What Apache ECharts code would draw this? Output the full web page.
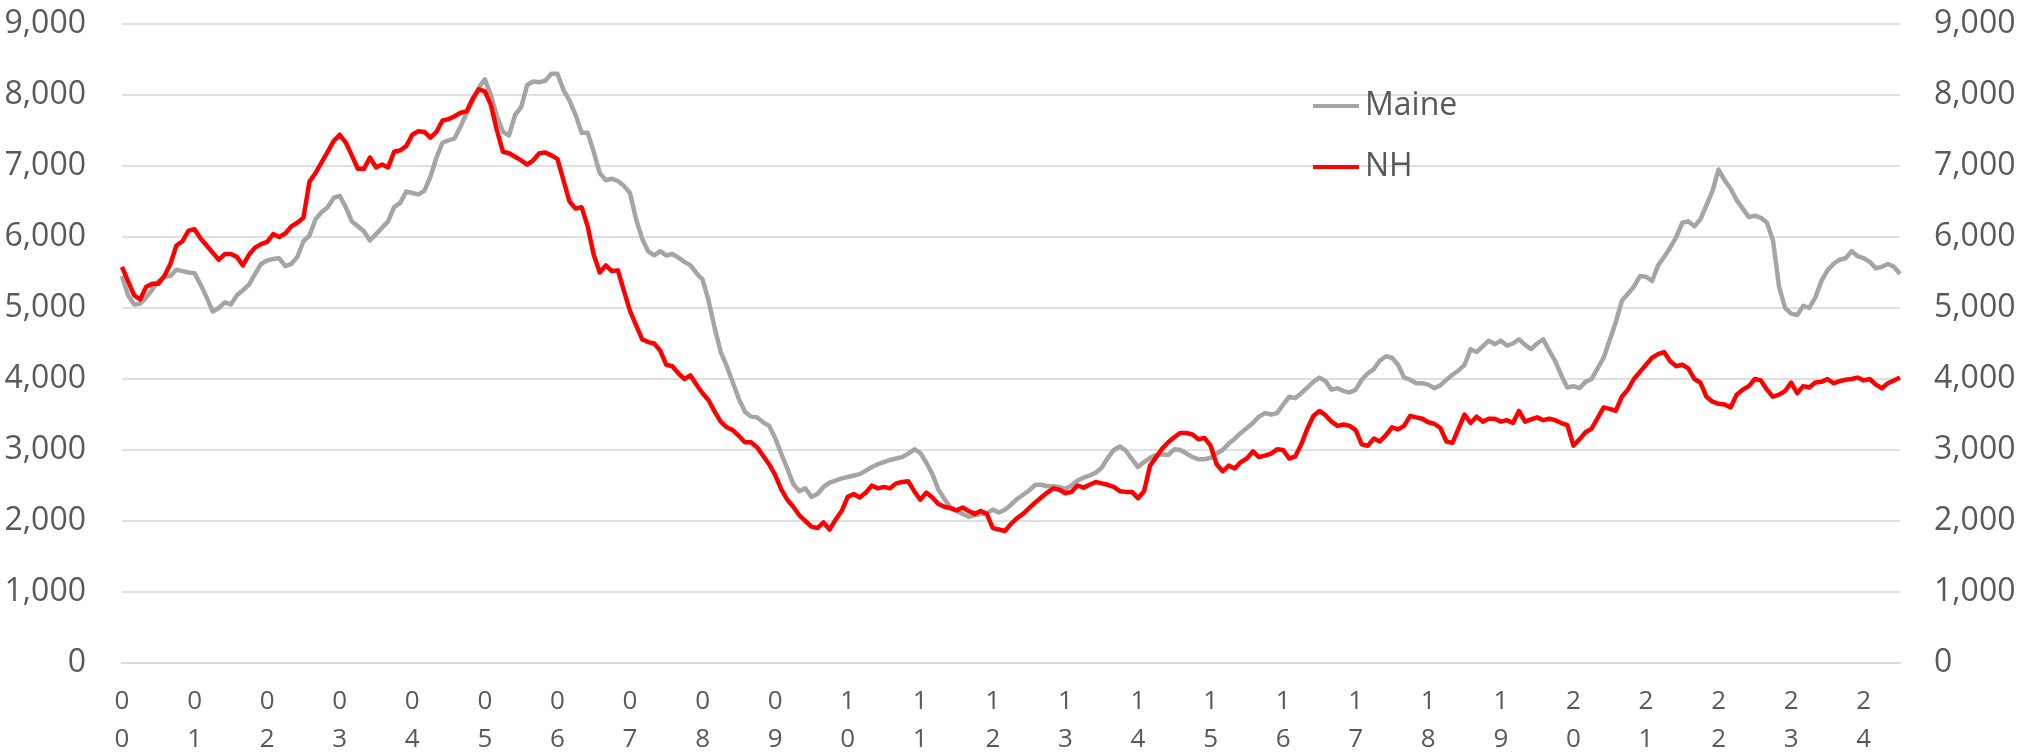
<!DOCTYPE html>
<html>
<head>
<meta charset="utf-8">
<script src="https://cdn.jsdelivr.net/npm/echarts@6/dist/echarts.min.js"></script>
<style>
html,body{margin:0;padding:0;background:#fff;}
#chart{width:2036px;height:754px;}
</style>
</head>
<body>
<div id="chart"></div>
<script>
// Year tick labels (two digits stacked), one per January
const yearLabels = ['0\n0','0\n1','0\n2','0\n3','0\n4','0\n5','0\n6','0\n7','0\n8','0\n9',
  '1\n0','1\n1','1\n2','1\n3','1\n4','1\n5','1\n6','1\n7','1\n8','1\n9',
  '2\n0','2\n1','2\n2','2\n3','2\n4'];

// Monthly values, Jan 2000 - Jul 2024 (one row per year)
const maine = [
  5450,5180,5050,5060,5150,5260,5380,5440,5450,5540,5520,5500,
  5490,5330,5150,4950,5000,5080,5050,5180,5250,5330,5480,5620,
  5670,5690,5700,5590,5620,5720,5940,6020,6250,6350,6420,6550,
  6580,6420,6220,6150,6080,5950,6040,6130,6220,6420,6480,6640,
  6620,6600,6650,6850,7120,7330,7360,7390,7560,7750,7920,8100,
  8220,8000,7700,7480,7430,7720,7830,8140,8190,8180,8200,8300,
  8300,8070,7920,7720,7470,7470,7200,6900,6800,6820,6790,6720,
  6620,6250,5980,5800,5740,5800,5740,5760,5710,5650,5600,5490,
  5400,5100,4720,4380,4180,3950,3720,3540,3470,3460,3390,3340,
  3170,2950,2740,2520,2420,2460,2340,2380,2480,2540,2570,2600,
  2620,2640,2660,2710,2760,2800,2830,2860,2880,2900,2950,3010,
  2960,2820,2660,2440,2310,2190,2140,2100,2060,2080,2100,2110,
  2160,2120,2160,2230,2310,2370,2430,2510,2510,2490,2490,2480,
  2450,2500,2570,2610,2640,2680,2750,2890,3000,3050,2990,2870,
  2760,2830,2890,2930,2940,2930,3010,3000,2950,2900,2870,2870,
  2890,2950,3000,3090,3160,3240,3310,3380,3470,3520,3500,3520,
  3640,3750,3730,3800,3880,3960,4020,3970,3850,3870,3830,3810,
  3850,3990,4080,4140,4260,4320,4300,4200,4020,3990,3940,3940,
  3920,3870,3910,3990,4060,4120,4200,4420,4380,4460,4540,4490,
  4540,4470,4500,4560,4480,4420,4500,4560,4400,4250,4050,3880,
  3900,3870,3960,4000,4150,4300,4550,4800,5100,5200,5300,5450,
  5440,5380,5600,5720,5850,6000,6200,6220,6150,6250,6450,6650,
  6950,6800,6680,6520,6400,6280,6300,6270,6200,5950,5300,5000,
  4920,4900,5030,5000,5150,5380,5530,5620,5680,5700,5800,5730,
  5700,5650,5560,5580,5620,5580,5480
];
const nh = [
  5580,5380,5180,5120,5300,5340,5340,5450,5620,5880,5940,6090,
  6110,5980,5880,5780,5680,5760,5760,5720,5600,5750,5850,5900,
  5930,6040,6000,6050,6150,6200,6270,6780,6900,7050,7200,7350,
  7440,7330,7150,6960,6960,7120,6980,7020,6980,7200,7220,7280,
  7440,7490,7480,7400,7480,7640,7660,7700,7750,7770,7950,8080,
  8050,7860,7500,7200,7180,7130,7080,7020,7080,7180,7190,7150,
  7100,6800,6500,6400,6420,6150,5750,5500,5600,5520,5530,5240,
  4960,4760,4560,4520,4500,4400,4200,4180,4080,4000,4050,3920,
  3800,3700,3540,3400,3320,3280,3200,3110,3110,3040,2920,2800,
  2650,2450,2300,2200,2080,2000,1920,1900,1980,1880,2020,2140,
  2340,2380,2330,2400,2500,2460,2480,2460,2530,2550,2560,2420,
  2300,2400,2330,2240,2200,2180,2150,2190,2140,2100,2140,2100,
  1900,1880,1860,1960,2040,2100,2180,2260,2330,2400,2460,2440,
  2390,2410,2500,2470,2510,2550,2530,2510,2480,2420,2410,2410,
  2320,2420,2780,2900,3020,3110,3180,3240,3240,3220,3150,3170,
  3060,2800,2700,2780,2740,2830,2880,2980,2900,2920,2950,3010,
  3000,2880,2910,3080,3300,3480,3550,3490,3400,3340,3360,3340,
  3280,3080,3060,3160,3120,3210,3320,3290,3340,3480,3460,3440,
  3390,3370,3310,3120,3100,3300,3500,3380,3470,3400,3440,3440,
  3400,3420,3380,3550,3400,3430,3460,3420,3440,3420,3380,3350,
  3060,3150,3250,3300,3450,3600,3580,3550,3750,3850,4000,4100,
  4200,4300,4350,4380,4250,4180,4200,4150,4000,3950,3750,3680,
  3650,3640,3600,3780,3850,3900,4000,3980,3850,3750,3780,3830,
  3950,3800,3900,3880,3950,3960,4000,3940,3970,3990,4000,4020,
  3980,4000,3920,3870,3940,3980,4020
];

// Category per month
const months = [];
for (let i = 0; i < maine.length; i++) {
  const y = 2000 + Math.floor(i / 12), m = (i % 12) + 1;
  months.push(y + '-' + (m < 10 ? '0' + m : m));
}

const FONT = 'Open Sans';
const TXT = '#595959';
const fmt = v => v.toLocaleString('en-US');

const chart = echarts.init(document.getElementById('chart'), null, {renderer: 'canvas'});
chart.setOption({
  animation: false,
  backgroundColor: '#ffffff',
  grid: {left: 122, right: 136, top: 24, bottom: 91, containLabel: false, outerBoundsMode: 'none'},
  legend: {
    orient: 'vertical',
    left: 1308,
    top: 81,
    icon: 'rect',
    itemWidth: 46,
    itemHeight: 4,
    itemGap: 21,
    textStyle: {fontFamily: FONT, fontSize: 32, color: TXT, lineHeight: 40, padding: [0,0,0,1]},
    data: ['Maine', 'NH']
  },
  xAxis: {
    type: 'category',
    data: months,
    boundaryGap: false,
    axisLine: {show: true, lineStyle: {color: '#d9d9d9', width: 2}},
    axisTick: {show: false},
    splitLine: {show: false},
    axisLabel: {
      interval: 11,
      margin: 20,
      fontFamily: FONT,
      fontSize: 26,
      lineHeight: 38,
      color: TXT,
      formatter: (val, idx) => yearLabels[Math.floor(idx / 12)]
    }
  },
  yAxis: [
    {
      type: 'value', min: 0, max: 9000, interval: 1000, position: 'left',
      axisLine: {show: false}, axisTick: {show: false},
      splitLine: {show: true, lineStyle: {color: '#e0e0e0', width: 2}},
      axisLabel: {margin: 36, fontFamily: FONT, fontSize: 32, color: TXT, formatter: fmt}
    },
    {
      type: 'value', min: 0, max: 9000, interval: 1000, position: 'right',
      axisLine: {show: false}, axisTick: {show: false},
      splitLine: {show: false},
      axisLabel: {margin: 34, fontFamily: FONT, fontSize: 32, color: TXT, formatter: fmt}
    }
  ],
  series: [
    {
      name: 'Maine', type: 'line', data: maine, yAxisIndex: 0,
      showSymbol: false, symbol: 'none', smooth: false,
      lineStyle: {color: '#a5a5a5', width: 4.5, join: 'round'},
      itemStyle: {color: '#a5a5a5'}, z: 2
    },
    {
      name: 'NH', type: 'line', data: nh, yAxisIndex: 0,
      showSymbol: false, symbol: 'none', smooth: false,
      lineStyle: {color: '#ff0000', width: 4.5, join: 'round'},
      itemStyle: {color: '#ff0000'}, z: 3
    }
  ]
});
</script>
</body>
</html>
